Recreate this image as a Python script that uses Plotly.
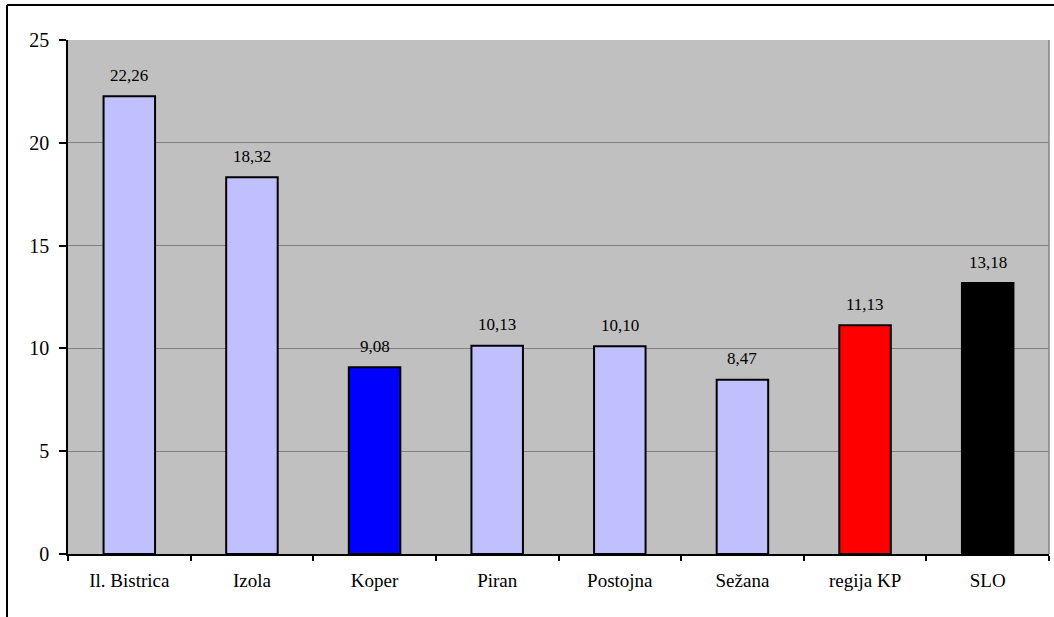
import plotly.graph_objects as go

# Kraji in vrednosti
categories = ["Il. Bistrica", "Izola", "Koper", "Piran", "Postojna", "Sežana", "regija KP", "SLO"]
values = [22.26, 18.32, 9.08, 10.13, 10.10, 8.47, 11.13, 13.18]
labels = ["22,26", "18,32", "9,08", "10,13", "10,10", "8,47", "11,13", "13,18"]
bar_colors = ["#C0C0FF", "#C0C0FF", "#0000FF", "#C0C0FF", "#C0C0FF", "#C0C0FF", "#FF0000", "#000000"]
y_ticks = [0, 5, 10, 15, 20, 25]

font_family = "Liberation Serif"

fig = go.Figure(
    go.Bar(
        x=categories,
        y=values,
        marker=dict(color=bar_colors, line=dict(color="#000000", width=2)),
        width=0.42,
        hoverinfo="skip",
    )
)

# Vrednosti nad stolpci
for cat, v, lab in zip(categories, values, labels):
    fig.add_annotation(
        x=cat, y=v, text=lab, showarrow=False, yshift=21,
        font=dict(family=font_family, size=17, color="#000000"),
    )

W, H = 1054, 617
ml, mr, mt, mb = 68, 5, 40, 63
pw, ph = W - ml - mr, H - mt - mb

def px_x(p):
    return (p - ml) / pw

def px_y(p):
    return 1 - (p - mt) / ph

# Okvir grafikona (levo in zgoraj)
fig.add_shape(type="line", xref="paper", yref="paper",
              x0=px_x(7), x1=px_x(1060), y0=px_y(5), y1=px_y(5),
              line=dict(color="#000000", width=2))
fig.add_shape(type="line", xref="paper", yref="paper",
              x0=px_x(7), x1=px_x(7), y0=px_y(5), y1=px_y(630),
              line=dict(color="#000000", width=2))
# Desni rob risalne površine
fig.add_shape(type="line", xref="paper", yref="paper",
              x0=1, x1=1, y0=0, y1=1,
              line=dict(color="#808080", width=1.5))

fig.update_layout(
    width=W, height=H,
    margin=dict(l=ml, r=mr, t=mt, b=mb),
    paper_bgcolor="#FFFFFF",
    plot_bgcolor="#C0C0C0",
    showlegend=False,
    font=dict(family=font_family, size=19, color="#000000"),
)
fig.update_xaxes(
    showline=True, linecolor="#000000", linewidth=1.5,
    ticks="outside", ticklen=5, tickcolor="#000000", tickwidth=1.5,
    tickson="boundaries", showgrid=False,
    ticklabelstandoff=8,
    tickfont=dict(family=font_family, size=19),
)
fig.update_yaxes(
    range=[0, 25], tickvals=y_ticks,
    showline=True, linecolor="#000000", linewidth=1.5,
    ticks="outside", ticklen=7, tickcolor="#000000", tickwidth=1.5,
    showgrid=True, gridcolor="#808080", gridwidth=1,
    zeroline=False,
    ticklabelstandoff=6,
    tickfont=dict(family=font_family, size=20),
)

fig.write_html("out.html")
